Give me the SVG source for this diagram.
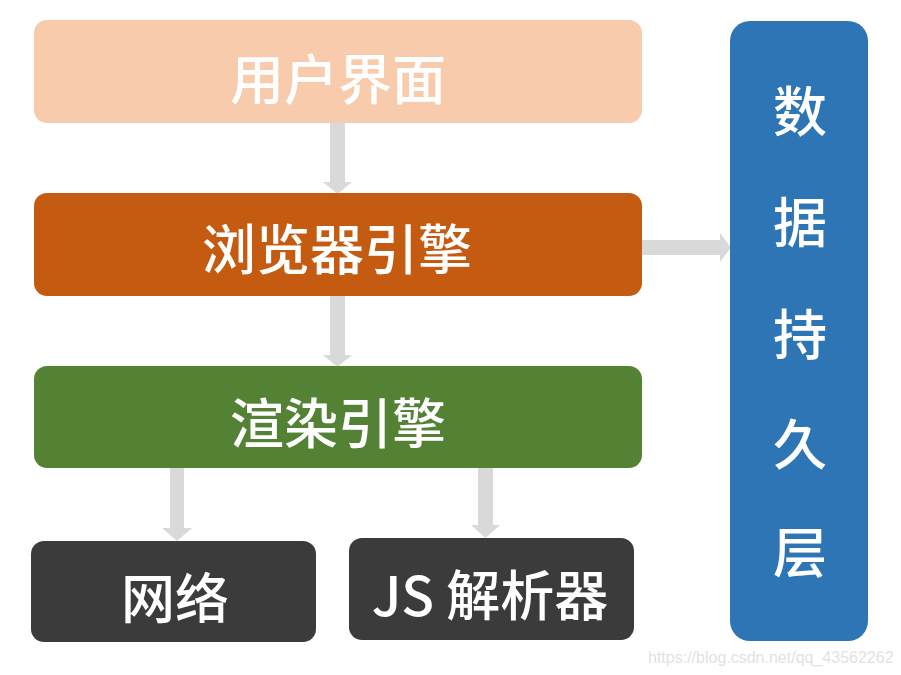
<svg xmlns="http://www.w3.org/2000/svg" width="901" height="675" viewBox="0 0 901 675">
<defs>
<style>
.t{fill:#fff;font-family:"Noto Sans CJK SC","Noto Sans",sans-serif;font-size:54px;font-weight:500;text-anchor:middle}
.arr{fill:#D9D9D9}
.wm{fill:#E2E2E2;font-family:"Liberation Sans",Arial,sans-serif;font-size:16px}
</style>
</defs>
<rect width="901" height="675" fill="#fff"/>
<g id="connectors">
<polygon class="arr" points="330,123 345,123 345,182 352,182 337.5,194 323,182 330,182"/>
<polygon class="arr" points="330,296 345,296 345,355 352,355 337.5,367 323,355 330,355"/>
<polygon class="arr" points="642,240 720,240 720,233 731,247.5 720,262 720,255 642,255"/>
<polygon class="arr" points="170,468 184,468 184,528 192,528 177,541 162,528 170,528"/>
<polygon class="arr" points="478,468 493,468 493,525 500,525 485.5,538 471,525 478,525"/>
</g>
<g id="ui">
<rect x="34" y="20" width="608" height="103" rx="13" fill="#F8CBAD"/>
<text class="t" x="338" y="100">用户界面</text>
</g>
<g id="browser-engine">
<rect x="34" y="193" width="608" height="103" rx="13" fill="#C55A11"/>
<text class="t" x="337" y="270">浏览器引擎</text>
</g>
<g id="render-engine">
<rect x="34" y="366" width="608" height="102" rx="13" fill="#548235"/>
<text class="t" x="338" y="444">渲染引擎</text>
</g>
<g id="network">
<rect x="31" y="541" width="285" height="101" rx="13" fill="#3B3B3B"/>
<text class="t" x="175" y="619">网络</text>
</g>
<g id="js-parser">
<rect x="349" y="538" width="285" height="102" rx="13" fill="#3B3B3B"/>
<text class="t" x="490" y="616">JS 解析器</text>
</g>
<g id="persistence">
<rect x="730" y="21" width="138" height="620" rx="20" fill="#2E75B6"/>
<text class="t" x="800" y="132">数</text>
<text class="t" x="800" y="243">据</text>
<text class="t" x="800" y="355">持</text>
<text class="t" x="800" y="465">久</text>
<text class="t" x="800" y="573">层</text>
</g>
<text class="wm" x="648" y="663">https://blog.csdn.net/qq_43562262</text>
</svg>
